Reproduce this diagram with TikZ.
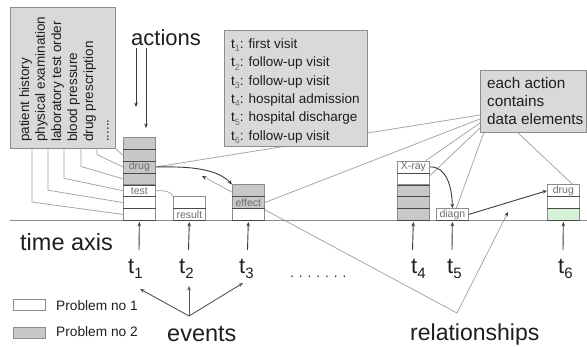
\documentclass[tikz,border=0pt]{standalone}
\usepackage{fontspec}
\setmainfont{Liberation Sans}
\usetikzlibrary{arrows.meta}
\pgfdeclarelayer{bg}
\pgfsetlayers{bg,main}

\definecolor{cInk}{HTML}{1E1E1E}
\definecolor{cPanel}{HTML}{D9D9D9}
\definecolor{cEdge}{HTML}{8C8C8C}
\definecolor{cCell}{HTML}{C8C8C8}
\definecolor{cGreen}{HTML}{D6F2D6}
\definecolor{cWire}{HTML}{A2A2A2}
\definecolor{cDark}{HTML}{3A3A3A}
\definecolor{cMid}{HTML}{555555}
\definecolor{cLbl}{HTML}{6E6E6E}
\definecolor{cSep}{HTML}{4A4A4A}

% t with a small grey index (legend panel)
\newcommand\tidx[1]{t\raisebox{-0.25em}{\textcolor{cLbl}{\fontsize{9}{9}\selectfont #1}}}
% t with a large index (time points)
\newcommand\tpoint[1]{t\raisebox{-0.27em}{\fontsize{15}{15}\selectfont #1}}

\begin{document}
\begin{tikzpicture}[x=1pt,y=-1pt,
  panel/.style={draw=cEdge, fill=cPanel, line width=0.8pt, inner sep=0pt, anchor=north west},
  vtext/.style={rotate=90, anchor=base west, inner sep=0pt, text=cInk, font=\fontsize{13.5}{13.5}\selectfont},
  ltext/.style={anchor=base west, inner sep=0pt, text=cInk, font=\fontsize{13.5}{13.5}\selectfont},
  rtext/.style={anchor=base west, inner sep=0pt, text=cInk, font=\fontsize{15.3}{15.3}\selectfont},
  big/.style={anchor=base west, inner sep=0pt, text=cInk, font=\fontsize{#1}{#1}\selectfont},
  tlab/.style={anchor=base west, inner sep=0pt, text=cInk, font=\fontsize{22}{22}\selectfont},
  cell/.style={draw=cEdge, line width=0.7pt, minimum width=32pt, minimum height=11.86pt,
               inner sep=0pt, anchor=north west, text=cLbl, font=\fontsize{10.5}{10.5}\selectfont},
  cw/.style={cell, fill=white},
  cg/.style={cell, fill=cCell},
  cgr/.style={cell, fill=cGreen},
  sep/.style={draw=cSep, line width=1pt},
  wire/.style={draw=cWire, line width=0.75pt},
  darr/.style={draw=cDark, line width=0.9pt, -{Stealth[length=4.5pt, width=3.6pt]}},
  marr/.style={draw=cMid, line width=0.9pt, -{Stealth[length=4.5pt, width=3.6pt]}},
  rarr/.style={wire, -{Stealth[length=4.5pt, width=3.6pt, color=cDark]}},
  axisline/.style={draw=cEdge, line width=0.9pt}]
\useasboundingbox (0,0) rectangle (587,346);

% ---- panels ----
\node[panel, minimum width=105pt, minimum height=141pt] (acts) at (10,7) {};
\node[panel, minimum width=143pt, minimum height=116pt] (times) at (224,30) {};
\node[panel, minimum width=106pt, minimum height=62pt] (elems) at (480,70) {};

% action list, written upwards
\node[vtext] (v1) at (29,142) {patient history};
\node[vtext] (v2) at (45,142) {physical examination};
\node[vtext] (v3) at (61,142) {laboratory test order};
\node[vtext] (v4) at (77,142) {blood pressure};
\node[vtext] (v5) at (93,142) {drug prescription};
\node[vtext] (v6) at (108.5,142) {......};

% meaning of the time points
\node[ltext] (tl1) at (231,48.3)  {\tidx{1}: first visit};
\node[ltext] (tl2) at (231,66.7)  {\tidx{2}: follow-up visit};
\node[ltext] (tl3) at (231,85.1)  {\tidx{3}: follow-up visit};
\node[ltext] (tl4) at (231,103.5) {\tidx{4}: hospital admission};
\node[ltext] (tl5) at (231,121.9) {\tidx{5}: hospital discharge};
\node[ltext] (tl6) at (231,140.3) {\tidx{6}: follow-up visit};

% data elements note
\node[rtext] (r1) at (487,88.5)  {each action};
\node[rtext] (r2) at (487,106.5) {contains};
\node[rtext] (r3) at (487,124.5) {data elements};

% ---- time axis ----
\coordinate (ax0) at (10,220);
\coordinate (ax1) at (587,220);
\draw[axisline] (ax0) -- (ax1);

% ---- stacks of actions ----
% t1
\node[cg] (c11) at (123,137)    {};
\node[cg] (c12) at (123,148.86) {};
\node[cg] (c13) at (123,160.71) {drug};
\node[cg] (c14) at (123,172.57) {};
\node[cw] (c15) at (123,184.43) {test};
\node[cw] (c16) at (123,196.29) {};
\node[cw] (c17) at (123,208.14) {};
% t2
\node[cw] (c21) at (173,196.29) {};
\node[cw] (c22) at (173,208.14) {result};
% t3
\node[cg] (c31) at (232,184.43) {};
\node[cg] (c32) at (232,196.29) {effect};
\node[cw] (c33) at (232,208.14) {};
% t4
\node[cw] (c41) at (397,160.71) {X-ray};
\node[cw] (c42) at (397,172.57) {};
\node[cg] (c43) at (397,184.43) {};
\node[cg] (c44) at (397,196.29) {};
\node[cg] (c45) at (397,208.14) {};
% t5
\node[cw] (c51) at (436,208.14) {diagn};
% t6
\node[cw]  (c61) at (547,184.43) {drug};
\node[cw]  (c62) at (547,196.29) {};
\node[cgr] (c63) at (547,208.14) {};

% darker separators under every cell
\foreach \c in {c11,c12,c13,c14,c15,c16,c17,c21,c22,c31,c32,c33,
                c41,c42,c43,c44,c45,c51,c61,c62,c63}
  \draw[sep] (\c.south west) -- (\c.south east);

% ---- legend ----
\node[cw, minimum height=11pt] (k1) at (13,299) {};
\node[cg, minimum height=11pt] (k2) at (13,327) {};
\node[big=13.7] (k1t) at (56,310) {Problem no 1};
\node[big=13.7] (k2t) at (56,336) {Problem no 2};

% ---- labels ----
\node[big=22]   (actions) at (131,45)  {actions};
\node[big=23.5] (taxis)   at (20,250)  {time axis};
\node[big=23.5] (events)  at (167,341.5) {events};
\node[big=23]   (rels)    at (410,340) {relationships};
\node[big=13.5] (dots)    at (290,277) {. . . . . . .};

\node[tlab] (t1) at (128,273) {\tpoint{1}};
\node[tlab] (t2) at (179,273) {\tpoint{2}};
\node[tlab] (t3) at (239,273) {\tpoint{3}};
\node[tlab] (t4) at (411,273) {\tpoint{4}};
\node[tlab] (t5) at (447,273) {\tpoint{5}};
\node[tlab] (t6) at (558,273) {\tpoint{6}};

% ---- connectors behind the boxes ----
\begin{pgfonlayer}{bg}
  % action list to the cells of t1
  \draw[wire] (109,140) -- (109,143)   -- (c12.west);
  \draw[wire] (97,140)  -- (97,154.6)  -- (c13.west);
  \draw[wire] (81,140)  -- (81,166.5)  -- (c14.west);
  \draw[wire] (64,140)  -- (64,178.3)  -- (c15.west);
  \draw[wire] (48,140)  -- (48,190.2)  -- (c16.west);
  \draw[wire] (32,140)  -- (32,202.1)  -- (c17.west);
  % data elements note to its actions
  \coordinate (f1) at (480,115);
  \coordinate (f2) at (480,119);
  \coordinate (f3) at (480,123);
  \coordinate (f4) at (480,128);
  \coordinate (f5) at (484,132);
  \coordinate (f6) at (517,132);
  \draw[wire] (f1) -- (c13.east);
  \draw[wire] (f2) -- (c32.east);
  \draw[wire] (f3) -- ([xshift=-4pt]c41.north east);
  \draw[wire] (f4) -- ([yshift=3pt]c42.east);
  \draw[wire] (f5) -- ([xshift=4pt]c51.north);
  \draw[wire] (f6) -- ([xshift=-7pt]c61.north east);
  % relationships
  \coordinate (rp) at (457,313);
  \coordinate (rq1) at (202,176);
  \coordinate (rq2) at (508,212);
  \draw[rarr] (rp) -- (rq1);
  \draw[rarr] (rp) -- (rq2);
  % test -> result
  \draw[wire] (c15.east) .. controls (166,190.3) and (171,192) .. (c21.north west);
\end{pgfonlayer}

% ---- arrows ----
\coordinate (aa1) at (136,48);
\coordinate (ab1) at (136,107);
\coordinate (aa2) at (146,48);
\coordinate (ab2) at (146,128);
\draw[darr] (aa1) -- (ab1);
\draw[darr] (aa2) -- (ab2);

\draw[darr] (c13.east) .. controls (195,166) and (218,170) .. (c31.north west);
\draw[darr] (c41.east) .. controls (446,166) and (452,186) .. (c51.north);
\draw[darr] (c51.east) -- (c61.west);

% time points up to the axis
\foreach \n/\x/\c in {1/139/c17, 2/188.5/c22, 3/247.5/c33, 4/412.5/c45, 5/452/c51, 6/563/c63} {
  \coordinate (u\n) at (\x,250);
  \draw[darr, shorten >=1.2pt] (u\n) -- (\c.south);
}

% events
\coordinate (ev)  at (189,316);
\coordinate (ev1) at (140,289);
\coordinate (ev2) at (189,286);
\coordinate (ev3) at (243,283);
\draw[marr] (ev) -- (ev1);
\draw[marr] (ev) -- (ev2);
\draw[marr] (ev) -- (ev3);
\end{tikzpicture}
\end{document}
